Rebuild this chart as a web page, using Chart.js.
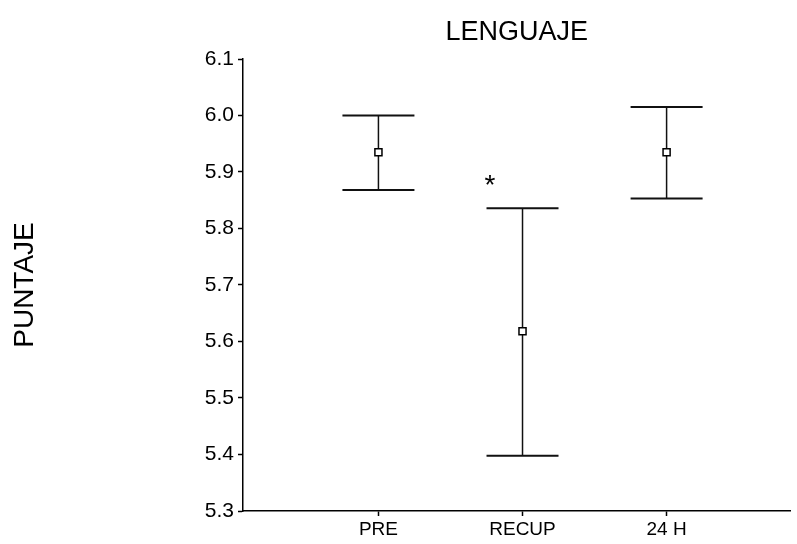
<!DOCTYPE html>
<html>
<head>
<meta charset="utf-8">
<script src="https://cdn.jsdelivr.net/npm/chart.js@4/dist/chart.umd.min.js"></script>
<style>
    html, body { margin: 0; padding: 0; background: #fff; }
    #wrap { width: 797px; height: 544px; }
</style>
</head>
<body>
<div id="wrap"><canvas id="grafico"></canvas></div>
<script>
// Datos de la gráfica
const categorias = ["PRE", "RECUP", "24 H"];
const posiciones = [1, 2, 3];
const medias = [5.935, 5.618, 5.935];
const limiteSup = [6.000, 5.836, 6.015];
const limiteInf = [5.868, 5.398, 5.853];
const marcaSignif = ["", "*", ""];
const ticksY = [5.3, 5.4, 5.5, 5.6, 5.7, 5.8, 5.9, 6.0, 6.1];

const fuente = "'Liberation Sans', Arial, sans-serif";

// barras de error dibujadas con las escalas del grafico
const barrasError = {
    id: 'barrasError',
    beforeDatasetsDraw(chart) {
        const ctx = chart.ctx;
        const x = chart.scales.x;
        const y = chart.scales.y;
        const medioCap = 36;
        ctx.save();
        ctx.strokeStyle = '#111';
        posiciones.forEach((p, i) => {
            const px = x.getPixelForValue(p);
            const yTop = y.getPixelForValue(limiteSup[i]);
            const yBot = y.getPixelForValue(limiteInf[i]);
            ctx.lineWidth = 1.5;
            ctx.beginPath();
            ctx.moveTo(px, yTop);
            ctx.lineTo(px, yBot);
            ctx.stroke();
            ctx.lineWidth = 2;
            ctx.beginPath();
            ctx.moveTo(px - medioCap, yTop);
            ctx.lineTo(px + medioCap, yTop);
            ctx.moveTo(px - medioCap, yBot);
            ctx.lineTo(px + medioCap, yBot);
            ctx.stroke();
        });
        ctx.restore();
    },
    afterDatasetsDraw(chart) {
        const ctx = chart.ctx;
        const x = chart.scales.x;
        const y = chart.scales.y;
        ctx.save();
        ctx.fillStyle = '#000';
        ctx.font = "28px " + fuente;
        ctx.textAlign = 'center';
        ctx.textBaseline = 'middle';
        posiciones.forEach((p, i) => {
            if (!marcaSignif[i]) return;
            const px = x.getPixelForValue(p - 0.226);
            const py = y.getPixelForValue(limiteSup[i]) - 22;
            ctx.fillText(marcaSignif[i], px, py);
        });
        ctx.restore();
    }
};

const ctx = document.getElementById('grafico').getContext('2d');

new Chart(ctx, {
    type: 'scatter',
    data: {
        datasets: [{
            label: 'Media',
            data: posiciones.map((p, i) => ({ x: p, y: medias[i] })),
            pointStyle: 'rect',
            pointRadius: 5,
            pointBackgroundColor: '#fff',
            pointBorderColor: '#000',
            pointBorderWidth: 1.5
        }]
    },
    options: {
        responsive: true,
        maintainAspectRatio: false,
        animation: false,
        layout: { padding: { left: 0, right: 0, top: 0, bottom: 0 } },
        plugins: {
            legend: { display: false },
            tooltip: { enabled: false },
            title: {
                display: true,
                text: 'LENGUAJE',
                color: '#000',
                fullSize: false,
                font: { family: fuente, size: 27, weight: 'normal' },
                padding: { top: 16, bottom: 10.6 }
            }
        },
        scales: {
            x: {
                type: 'linear',
                min: 0.06,
                max: 3.86,
                afterBuildTicks: (scale) => {
                    scale.ticks = posiciones.map(v => ({ value: v }));
                },
                afterFit: (scale) => { scale.height = 33; },
                grid: { display: true, drawOnChartArea: false, tickLength: 5, tickColor: '#000', tickWidth: 1.5 },
                border: { color: '#000', width: 1.5 },
                ticks: {
                    color: '#000',
                    padding: 2,
                    maxRotation: 0,
                    autoSkip: false,
                    font: { family: fuente, size: 19 },
                    callback: (v) => categorias[posiciones.indexOf(v)] || ''
                }
            },
            y: {
                min: 5.3,
                max: 6.1,
                afterBuildTicks: (scale) => {
                    scale.ticks = ticksY.map(v => ({ value: v }));
                },
                afterFit: (scale) => { scale.width = 243; },
                grid: { display: true, drawOnChartArea: false, tickLength: 5, tickColor: '#000', tickWidth: 1.5 },
                border: { color: '#000', width: 1.5 },
                ticks: {
                    color: '#000',
                    padding: 4,
                    font: { family: fuente, size: 21 },
                    callback: (v) => Number(v).toFixed(1)
                },
                title: {
                    display: true,
                    text: 'PUNTAJE',
                    color: '#000',
                    font: { family: fuente, size: 28, weight: 'normal' },
                    padding: { top: 8, bottom: 0 }
                }
            }
        }
    },
    plugins: [barrasError]
});
</script>
</body>
</html>
